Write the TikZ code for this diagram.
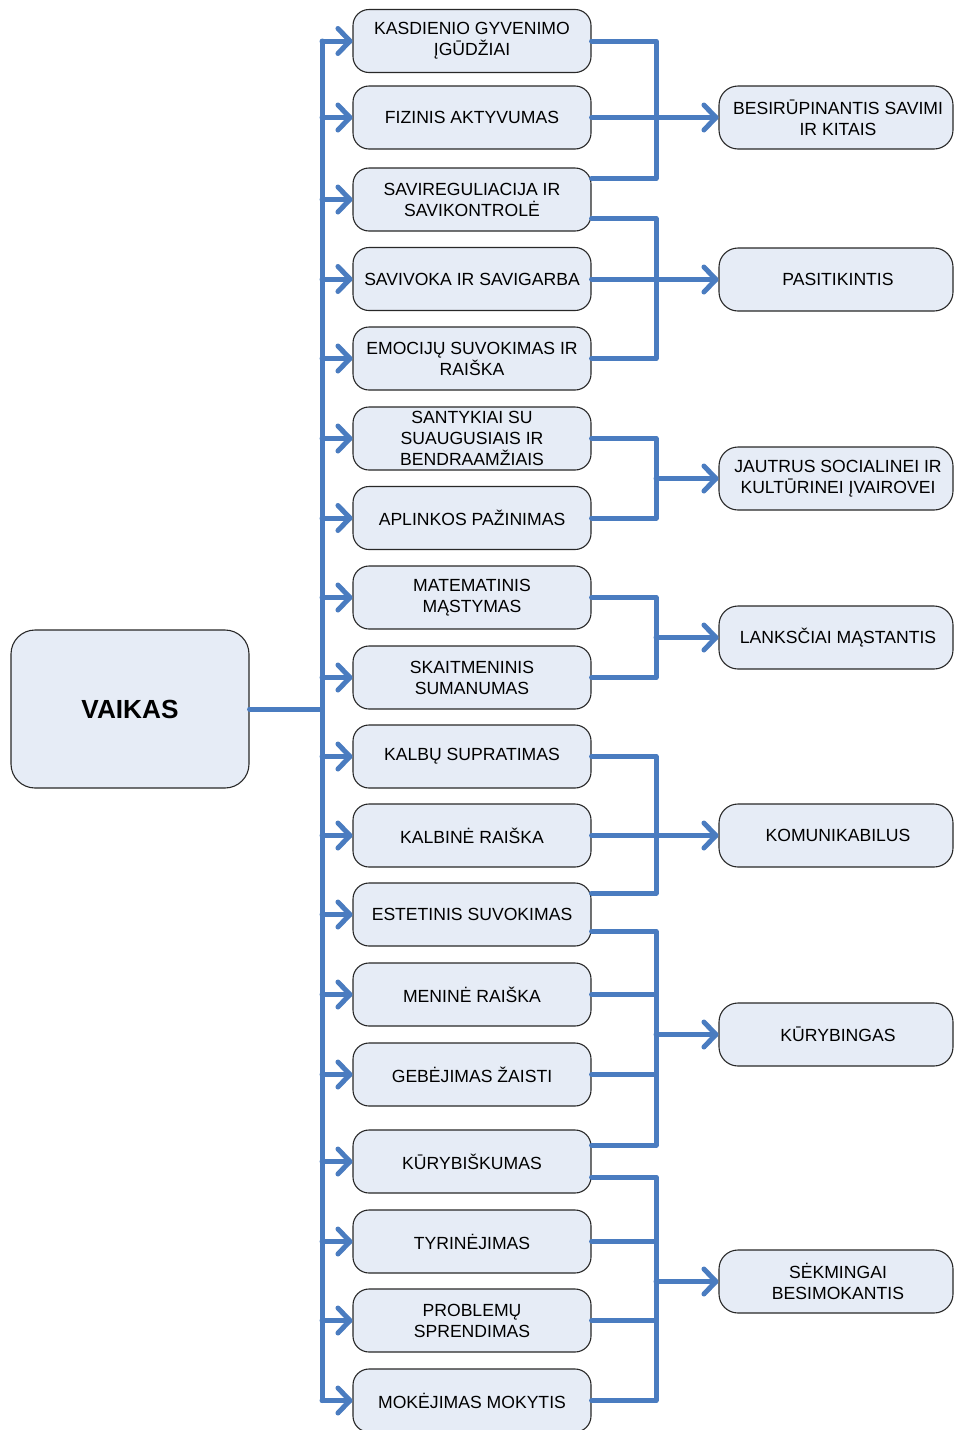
\documentclass[tikz,border=0pt]{standalone}
\usepackage{fontspec}
\setmainfont{Liberation Sans}
\definecolor{lineblue}{RGB}{74,124,192}
\definecolor{boxfill}{RGB}{230,236,246}
\definecolor{boxline}{RGB}{40,40,40}
\begin{document}
\begin{tikzpicture}[x=1pt,y=-1pt,
  basebox/.style={draw=boxline, line width=1.1pt, fill=boxfill, inner sep=0pt, align=center,
    font=\fontsize{17.6}{21.1}\selectfont},
  midbox/.style={basebox, minimum width=238pt, minimum height=63pt, rounded corners=16pt},
  resbox/.style={basebox, minimum width=234pt, minimum height=63pt, rounded corners=19pt},
  rootbox/.style={basebox, minimum width=238pt, minimum height=158pt, rounded corners=24pt,
    font=\fontsize{26.2}{30}\selectfont\bfseries},
  link/.style={draw=lineblue, line width=5pt, line cap=round, line join=round},
  chev/.pic={\draw[link] (-12,-12.5) -- (0,0) -- (-12,12.5);}
]
\useasboundingbox (0,0) rectangle (954,1430);

% root
\node[rootbox] (v) at (130,709) {VAIKAS};

% middle column
\node[midbox] (m1) at (472,41) {KASDIENIO GYVENIMO\\ĮGŪDŽIAI};
\node[midbox] (m2) at (472,117.5) {FIZINIS AKTYVUMAS};
\node[midbox] (m3) at (472,199.5) {SAVIREGULIACIJA IR\\SAVIKONTROLĖ};
\node[midbox] (m4) at (472,279) {SAVIVOKA IR SAVIGARBA};
\node[midbox] (m5) at (472,358.5) {EMOCIJŲ SUVOKIMAS IR\\RAIŠKA};
\node[midbox] (m6) at (472,438.5) {SANTYKIAI SU\\SUAUGUSIAIS IR\\BENDRAAMŽIAIS};
\node[midbox] (m7) at (472,518) {APLINKOS PAŽINIMAS};
\node[midbox] (m8) at (472,597.5) {MATEMATINIS\\MĄSTYMAS};
\node[midbox] (m9) at (472,677.5) {SKAITMENINIS\\SUMANUMAS};
\node[midbox] (m10) at (472,756.5) {KALBŲ SUPRATIMAS};
\node[midbox] (m11) at (472,835.5) {KALBINĖ RAIŠKA};
\node[midbox] (m12) at (472,914.5) {ESTETINIS SUVOKIMAS};
\node[midbox] (m13) at (472,994.5) {MENINĖ RAIŠKA};
\node[midbox] (m14) at (472,1074.5) {GEBĖJIMAS ŽAISTI};
\node[midbox] (m15) at (472,1161.5) {KŪRYBIŠKUMAS};
\node[midbox] (m16) at (472,1241.5) {TYRINĖJIMAS};
\node[midbox] (m17) at (472,1320.5) {PROBLEMŲ\\SPRENDIMAS};
\node[midbox] (m18) at (472,1400.5) {MOKĖJIMAS MOKYTIS};

% result column
\node[resbox] (r1) at (836,117.5) {\hspace*{4pt}BESIRŪPINANTIS SAVIMI\\\hspace*{4pt}IR KITAIS};
\node[resbox] (r2) at (836,279.5) {\hspace*{4pt}PASITIKINTIS};
\node[resbox] (r3) at (836,478.5) {\hspace*{4pt}JAUTRUS SOCIALINEI IR\\\hspace*{4pt}KULTŪRINEI ĮVAIROVEI};
\node[resbox] (r4) at (836,637.5) {\hspace*{4pt}LANKSČIAI MĄSTANTIS};
\node[resbox] (r5) at (836,835.5) {\hspace*{4pt}KOMUNIKABILUS};
\node[resbox] (r6) at (836,1034.5) {\hspace*{4pt}KŪRYBINGAS};
\node[resbox] (r7) at (836,1281.5) {\hspace*{4pt}SĖKMINGAI\\\hspace*{4pt}BESIMOKANTIS};

% helper coordinates
\coordinate (tx) at (322,0);
\coordinate (jx) at (656,0);
\coordinate (m3u) at ([yshift=21pt]m3.east);
\coordinate (m3d) at ([yshift=-19pt]m3.east);
\coordinate (m12u) at ([yshift=21.5pt]m12.east);
\coordinate (m12d) at ([yshift=-17pt]m12.east);
\coordinate (m15u) at ([yshift=16.5pt]m15.east);
\coordinate (m15d) at ([yshift=-15.5pt]m15.east);

% trunk
\draw[link] (v.east) -- (v.east -| tx);
\draw[link] (m1.west -| tx) -- (m18.west -| tx);
\foreach \i in {1,...,18}{
  \draw[link] (m\i.west -| tx) -- ([xshift=-2.5pt]m\i.west);
  \pic at ([xshift=-2.5pt]m\i.west) {chev};
}

% group A
\draw[link] (m1.east) -| (jx |- m3u) -- (m3u);
\draw[link] (m2.east) -- (m2.east -| jx);
% group B
\draw[link] (m3d) -| (jx |- m5.east) -- (m5.east);
\draw[link] (m4.east) -- (m4.east -| jx);
% group C
\draw[link] (m6.east) -| (jx |- m7.east) -- (m7.east);
% group D
\draw[link] (m8.east) -| (jx |- m9.east) -- (m9.east);
% group E
\draw[link] (m10.east) -| (jx |- m12u) -- (m12u);
\draw[link] (m11.east) -- (m11.east -| jx);
% group F
\draw[link] (m12d) -| (jx |- m15u) -- (m15u);
\draw[link] (m13.east) -- (m13.east -| jx);
\draw[link] (m14.east) -- (m14.east -| jx);
% group G
\draw[link] (m15d) -| (jx |- m18.east) -- (m18.east);
\draw[link] (m16.east) -- (m16.east -| jx);
\draw[link] (m17.east) -- (m17.east -| jx);

% arrows to results
\foreach \r in {1,...,7}{
  \draw[link] (r\r.west -| jx) -- ([xshift=-2.5pt]r\r.west);
  \pic at ([xshift=-2.5pt]r\r.west) {chev};
}
\end{tikzpicture}
\end{document}
